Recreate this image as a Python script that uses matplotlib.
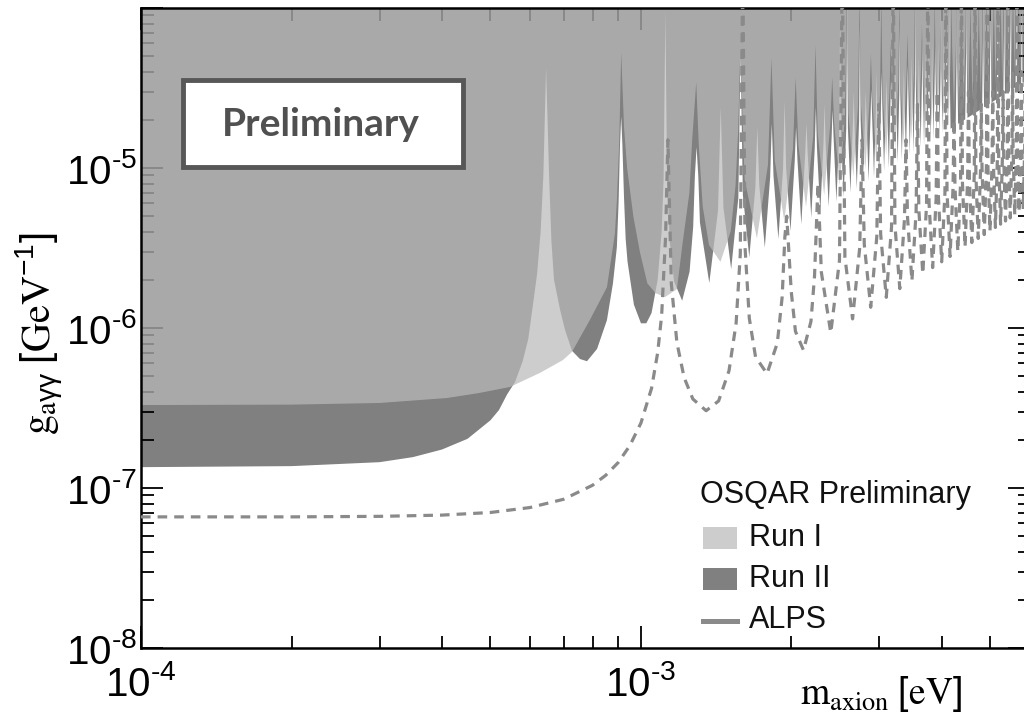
import numpy as np
import matplotlib
matplotlib.use("Agg")
import matplotlib.pyplot as plt
from matplotlib.patches import Rectangle
from matplotlib.lines import Line2D
from matplotlib.ticker import LogLocator, NullFormatter

plt.rcParams.update({
    "font.family": ["Liberation Sans", "DejaVu Sans"],
    "mathtext.fontset": "custom",
    "mathtext.rm": "Liberation Sans",
    "mathtext.it": "Liberation Sans:italic",
    "mathtext.bf": "Liberation Sans:bold",
    "mathtext.default": "regular",
})

# Exclusion limits: (axion mass [1e-4 eV], coupling g_agg [GeV^-1])
run1 = np.array([
    (1.00, 3.3e-7), (2.00, 3.32e-7), (3.00, 3.4e-7), (4.09, 3.65e-7), (4.76, 3.93e-7),
    (5.47, 4.28e-7), (6.28, 5.24e-7), (6.98, 6.3e-7), (7.28, 7.1e-7), (7.90, 1.12e-6),
    (8.55, 1.8e-6), (8.87, 3.9e-6), (8.95, 6.3e-6), (9.05, 1.5e-5), (9.13, 5.3e-5),
    (9.25, 1.8e-5), (9.38, 1.01e-5), (9.66, 4.94e-6), (9.96, 2.95e-6), (10.30, 1.9e-6),
    (10.70, 1.65e-6), (11.17, 1.56e-6), (11.80, 1.75e-6), (12.10, 3.3e-6), (12.50, 7.0e-6),
    (12.66, 1.5e-5), (12.90, 3.45e-5),
    (13.05, 1.4e-5), (13.29, 5.76e-6), (13.68, 3.30e-6), (14.42, 2.59e-6), (15.12, 4.03e-6),
    (15.46, 7.79e-6), (15.65, 1.76e-5), (15.80, 5.5e-5),
    (16.12, 8.47e-6), (17.06, 3.63e-6), (17.95, 1.05e-5), (18.24, 4.9e-5),
    (18.52, 1.117e-5), (19.35, 4.67e-6), (20.14, 1.321e-5), (20.39, 3.7e-5),
    (20.65, 1.388e-5), (21.39, 5.70e-6), (22.11, 1.592e-5), (22.34, 5.9e-5),
    (22.57, 1.659e-5), (23.25, 6.74e-6), (23.91, 1.862e-5), (24.13, 3.7e-5),
    (24.34, 1.930e-5), (24.98, 7.78e-6), (25.59, 2.133e-5), (25.80, 1.2e-4),
    (26.00, 2.201e-5), (26.59, 8.81e-6), (27.17, 2.404e-5), (27.36, 1.2e-4),
    (27.55, 2.472e-5), (28.11, 9.85e-6), (28.66, 2.675e-5), (28.84, 5.2e-5),
    (29.02, 2.743e-5), (29.55, 1.089e-5), (30.08, 2.946e-5), (30.25, 1.2e-4),
    (30.42, 3.014e-5), (30.93, 1.192e-5), (31.43, 3.217e-5), (31.59, 6.0e-5),
    (31.76, 3.285e-5), (32.24, 1.296e-5), (32.72, 3.488e-5), (32.88, 1.2e-4),
    (33.04, 3.556e-5), (33.51, 1.400e-5), (33.97, 3.759e-5), (34.12, 7.0e-5),
    (34.28, 3.826e-5), (34.73, 1.503e-5), (35.17, 4.030e-5), (35.32, 1.2e-4),
    (35.47, 4.097e-5), (35.91, 1.607e-5), (36.34, 4.300e-5), (36.48, 8.0e-5),
    (36.62, 4.368e-5), (37.05, 1.711e-5), (37.46, 4.571e-5), (37.60, 1.2e-4),
    (37.74, 4.639e-5), (38.15, 1.814e-5), (38.56, 4.842e-5), (38.69, 1.2e-4),
    (38.83, 4.910e-5), (39.23, 1.918e-5), (39.62, 5.113e-5), (39.75, 8.0e-5),
    (39.88, 5.181e-5), (40.27, 2.022e-5), (40.66, 5.384e-5), (40.79, 1.2e-4),
    (40.91, 5.452e-5), (41.29, 2.125e-5), (41.67, 5.655e-5), (41.79, 1.2e-4),
    (41.92, 5.723e-5), (42.29, 2.229e-5), (42.66, 5.926e-5), (42.78, 1.2e-4),
    (42.90, 5.994e-5), (43.26, 2.333e-5), (43.63, 6.197e-5), (43.74, 1.2e-4),
    (43.86, 6.265e-5), (44.21, 2.436e-5), (44.57, 6.468e-5), (44.68, 1.2e-4),
    (44.80, 6.535e-5), (45.14, 2.540e-5), (45.49, 6.739e-5), (45.60, 1.2e-4),
    (45.71, 6.806e-5), (46.05, 2.644e-5), (46.40, 7.010e-5), (46.50, 1.2e-4),
    (46.61, 7.077e-5), (46.95, 2.747e-5), (47.29, 7.280e-5), (47.39, 1.2e-4),
    (47.50, 7.348e-5), (47.83, 2.851e-5), (48.16, 7.551e-5), (48.26, 1.2e-4),
    (48.37, 7.619e-5), (48.69, 2.955e-5), (49.01, 7.822e-5), (49.11, 1.2e-4),
    (49.22, 7.890e-5), (49.53, 3.058e-5), (49.85, 8.093e-5), (49.95, 1.2e-4),
    (50.06, 8.161e-5), (50.37, 3.162e-5), (50.68, 8.364e-5), (50.78, 1.2e-4),
    (50.88, 8.432e-5), (51.19, 3.266e-5), (51.49, 8.635e-5), (51.59, 1.2e-4),
    (51.69, 8.703e-5), (51.99, 3.369e-5), (52.30, 8.906e-5), (52.39, 1.2e-4),
    (52.49, 8.973e-5), (52.79, 3.473e-5), (53.08, 9.177e-5), (53.18, 1.2e-4),
    (53.28, 9.244e-5), (53.57, 3.577e-5), (53.86, 9.448e-5), (53.95, 1.2e-4),
    (54.05, 9.515e-5), (54.34, 3.680e-5), (54.63, 9.719e-5), (54.72, 1.2e-4),
    (54.82, 9.786e-5), (55.10, 3.784e-5), (55.39, 9.989e-5), (55.47, 1.2e-4),
    (55.57, 1.006e-4), (55.85, 3.888e-5), (56.13, 1.026e-4), (56.22, 1.2e-4),
    (56.31, 1.033e-4), (56.59, 3.991e-5), (56.87, 1.053e-4), (56.95, 1.2e-4),
    (57.05, 1.060e-4), (57.32, 4.095e-5), (57.59, 1.080e-4), (57.68, 1.2e-4),
    (57.77, 1.087e-4), (58.04, 4.199e-5), (58.31, 1.107e-4), (58.40, 1.2e-4),
    (58.49, 1.114e-4), (58.75, 4.302e-5), (59.02, 1.134e-4), (59.10, 1.2e-4),
    (59.19, 1.141e-4), (59.46, 4.406e-5), (59.72, 1.161e-4), (59.80, 1.2e-4),
    (60.15, 4.510e-5),
])

run2 = np.array([
    (1.00, 1.35e-7), (2.00, 1.37e-7), (3.00, 1.45e-7), (3.50, 1.56e-7), (4.00, 1.74e-7),
    (4.50, 2.03e-7), (5.00, 2.65e-7), (5.20, 3.07e-7), (5.40, 3.85e-7), (5.60, 4.6e-7),
    (5.80, 6.2e-7), (5.95, 8.5e-7), (6.10, 1.5e-6), (6.20, 2.2e-6), (6.30, 4.0e-6),
    (6.38, 9.0e-6), (6.46, 4.2e-5),
    (6.55, 9.0e-6), (6.62, 3.5e-6), (6.70, 2.0e-6), (6.89, 1.3e-6), (7.05, 9.7e-7),
    (7.28, 7.2e-7), (7.55, 6.4e-7), (7.80, 6.2e-7), (8.17, 7.4e-7), (8.55, 1.12e-6),
    (8.79, 1.9e-6), (8.95, 3.2e-6), (9.02, 6.0e-6), (9.08, 1.4e-5), (9.13, 2.1e-5),
    (9.18, 1.4e-5), (9.25, 6.5e-6), (9.32, 3.6e-6), (9.40, 2.6e-6), (9.68, 1.4e-6),
    (10.0, 1.07e-6), (10.25, 1.07e-6), (10.5, 1.24e-6), (10.8, 2.0e-6), (11.0, 4.0e-6),
    (11.1, 8.5e-6), (11.19, 9.5e-5),
    (11.28, 8.3e-6), (11.42, 3.46e-6), (11.65, 1.95e-6), (12.09, 1.48e-6), (12.51, 2.25e-6),
    (12.72, 4.29e-6), (12.82, 9.0e-6), (12.92, 1.35e-5),
    (13.02, 9.0e-6), (13.12, 4.57e-6), (13.70, 1.91e-6), (14.26, 5.40e-6), (14.37, 1.34e-5),
    (14.44, 2.4e-5),
    (14.62, 5.68e-6), (15.15, 2.33e-6), (15.66, 6.51e-6), (15.82, 5.5e-5),
    (15.99, 6.79e-6), (16.47, 2.76e-6), (16.94, 7.62e-6), (17.09, 1.8e-5),
    (17.24, 7.89e-6), (17.69, 3.18e-6), (18.13, 8.73e-6), (18.27, 1.9e-5),
    (18.41, 9.00e-6), (18.83, 3.60e-6), (19.24, 9.83e-6), (19.38, 2.6e-5),
    (19.51, 1.011e-5), (19.91, 4.03e-6), (20.30, 1.094e-5), (20.43, 1.8e-5),
    (20.56, 1.122e-5), (20.93, 4.45e-6), (21.30, 1.205e-5), (21.43, 1.9e-5),
    (21.55, 1.233e-5), (21.91, 4.88e-6), (22.26, 1.316e-5), (22.38, 2.4e-5),
    (22.49, 1.343e-5), (22.84, 5.30e-6), (23.18, 1.427e-5), (23.29, 2.5e-5),
    (23.40, 1.454e-5), (23.74, 5.73e-6), (24.06, 1.537e-5), (24.17, 2.3e-5),
    (24.28, 1.565e-5), (24.60, 6.15e-6), (24.92, 1.648e-5), (25.02, 9.0e-5),
    (25.12, 1.676e-5), (25.43, 6.57e-6), (25.74, 1.759e-5), (25.84, 1.2e-4),
    (25.94, 1.787e-5), (26.24, 7.00e-6), (26.54, 1.870e-5), (26.64, 3.0e-5),
    (26.73, 1.897e-5), (27.02, 7.42e-6), (27.31, 1.981e-5), (27.41, 8.0e-5),
    (27.50, 2.008e-5), (27.79, 7.85e-6), (28.07, 2.091e-5), (28.16, 3.0e-5),
    (28.25, 2.119e-5), (28.53, 8.27e-6), (28.80, 2.202e-5), (28.89, 3.1e-5),
    (28.98, 2.230e-5), (29.25, 8.69e-6), (29.51, 2.313e-5), (29.60, 4.0e-5),
    (29.69, 2.341e-5), (29.95, 9.12e-6), (30.21, 2.424e-5), (30.30, 4.0e-5),
    (30.39, 2.451e-5), (30.64, 9.54e-6), (30.90, 2.535e-5), (30.98, 3.6e-5),
    (31.07, 2.562e-5), (31.32, 9.97e-6), (31.56, 2.645e-5), (31.65, 3.8e-5),
    (31.73, 2.673e-5), (31.98, 1.039e-5), (32.22, 2.756e-5), (32.30, 5.0e-5),
    (32.38, 2.784e-5), (32.62, 1.081e-5), (32.86, 2.867e-5), (32.94, 8.0e-5),
    (33.02, 2.895e-5), (33.25, 1.124e-5), (33.49, 2.978e-5), (33.57, 4.2e-5),
    (33.64, 3.005e-5), (33.88, 1.166e-5), (34.11, 3.089e-5), (34.18, 4.4e-5),
    (34.26, 3.116e-5), (34.49, 1.209e-5), (34.71, 3.199e-5), (34.79, 5.0e-5),
    (34.86, 3.227e-5), (35.09, 1.251e-5), (35.31, 3.310e-5), (35.38, 1.2e-4),
    (35.46, 3.338e-5), (35.68, 1.293e-5), (35.89, 3.421e-5), (35.97, 5.0e-5),
    (36.04, 3.449e-5), (36.26, 1.336e-5), (36.48, 3.532e-5), (36.54, 6.0e-5),
    (36.61, 3.560e-5), (36.83, 1.378e-5), (37.04, 3.643e-5), (37.11, 5.3e-5),
    (37.18, 3.670e-5), (37.39, 1.421e-5), (37.60, 3.753e-5), (37.67, 1.2e-4),
    (37.74, 3.781e-5), (37.95, 1.463e-5), (38.15, 3.864e-5), (38.22, 6.0e-5),
    (38.29, 3.892e-5), (38.49, 1.506e-5), (38.70, 3.975e-5), (38.76, 5.8e-5),
    (38.83, 4.003e-5), (39.03, 1.548e-5), (39.23, 4.086e-5), (39.29, 6.0e-5),
    (39.36, 4.113e-5), (39.56, 1.590e-5), (39.76, 4.197e-5), (39.82, 1.2e-4),
    (39.89, 4.224e-5), (40.08, 1.633e-5), (40.28, 4.307e-5), (40.34, 6.5e-5),
    (40.41, 4.335e-5), (40.60, 1.675e-5), (40.80, 4.418e-5), (40.86, 7.0e-5),
    (40.92, 4.446e-5), (41.11, 1.718e-5), (41.30, 4.529e-5), (41.36, 1.2e-4),
    (41.43, 4.557e-5), (41.62, 1.760e-5),
    (42.61, 1.845e-5), (42.79, 4.875e-5), (42.85, 1.2e-4), (42.91, 4.875e-5), (43.09, 1.887e-5),
    (44.05, 1.972e-5),
    (44.52, 2.014e-5), (44.70, 5.32e-5), (44.76, 1.2e-4), (44.82, 5.32e-5), (44.99, 2.057e-5),
    (45.91, 2.142e-5),
    (46.36, 2.184e-5), (46.52, 5.76e-5), (46.58, 1.2e-4), (46.64, 5.76e-5), (46.81, 2.227e-5),
    (47.69, 2.311e-5),
    (48.13, 2.354e-5), (48.29, 6.20e-5), (48.34, 1.2e-4), (48.39, 6.20e-5), (48.56, 2.396e-5),
    (49.41, 2.481e-5),
    (49.83, 2.523e-5), (49.99, 6.65e-5), (50.04, 1.2e-4), (50.09, 6.65e-5), (50.25, 2.566e-5),
    (51.07, 2.651e-5),
    (51.48, 2.693e-5), (51.63, 7.09e-5), (51.68, 1.2e-4), (51.73, 7.09e-5), (51.88, 2.735e-5),
    (52.68, 2.820e-5),
    (53.07, 2.863e-5), (53.22, 7.53e-5), (53.27, 1.2e-4), (53.32, 7.53e-5), (53.47, 2.905e-5),
    (54.24, 2.990e-5),
    (54.62, 3.032e-5), (54.77, 7.98e-5), (54.82, 1.2e-4), (54.87, 7.98e-5), (55.00, 3.075e-5),
    (55.76, 3.160e-5),
    (56.13, 3.202e-5), (56.27, 8.42e-5), (56.32, 1.2e-4), (56.37, 8.42e-5), (56.50, 3.244e-5),
    (57.24, 3.329e-5),
    (57.60, 3.372e-5), (57.73, 8.86e-5), (57.78, 1.2e-4), (57.83, 8.86e-5), (57.96, 3.414e-5),
    (58.68, 3.499e-5),
    (59.03, 3.541e-5), (59.17, 9.31e-5), (59.21, 1.2e-4), (59.25, 9.31e-5), (59.38, 3.584e-5),
    (60.08, 3.668e-5),
])

alps = np.array([
    (1.00, 6.6e-8), (2.00, 6.6e-8), (3.00, 6.65e-8), (4.00, 6.77e-8), (5.00, 7.03e-8),
    (6.00, 7.55e-8), (7.00, 8.5e-8), (8.00, 1.04e-7), (8.50, 1.2e-7), (9.00, 1.44e-7),
    (9.50, 1.84e-7), (10.0, 2.55e-7), (10.5, 4.2e-7), (10.8, 7.0e-7), (11.0, 1.2e-6),
    (11.2, 3.7e-6), (11.32, 1.5e-5),
    (11.5, 1.9e-6), (11.8, 8.1e-7), (12.2, 4.9e-7), (12.7, 3.6e-7), (13.5, 3.04e-7),
    (14.3, 3.5e-7), (15.0, 5.4e-7), (15.5, 1.07e-6), (15.8, 2.9e-6), (15.98, 2.0e-4),
    (16.15, 3.2e-6), (16.47, 1.151e-6), (16.95, 6.6e-7), (17.87, 5.18e-7), (18.74, 8.06e-7),
    (19.16, 1.558e-6), (19.40, 3.7e-6), (19.57, 5.0e-6),
    (19.98, 1.693e-6), (20.37, 9.53e-7), (21.14, 7.26e-7), (21.88, 1.10e-6), (22.24, 2.1e-6),
    (22.60, 8.0e-6),
    (22.95, 2.235e-6), (23.97, 9.33e-7), (24.95, 2.641e-6), (25.27, 2.0e-4),
    (25.58, 2.777e-6), (26.50, 1.140e-6), (27.39, 3.183e-6), (27.68, 1.5e-5),
    (27.97, 3.319e-6), (28.81, 1.348e-6), (29.63, 3.725e-6), (29.90, 2.5e-5),
    (30.16, 3.860e-6), (30.95, 1.555e-6), (31.71, 4.267e-6), (31.96, 2.0e-4),
    (32.21, 4.402e-6), (32.94, 1.762e-6), (33.66, 4.808e-6), (33.90, 1.5e-5),
    (34.13, 4.944e-6), (34.83, 1.970e-6), (35.51, 5.350e-6), (35.73, 2.5e-5),
    (35.96, 5.486e-6), (36.62, 2.177e-6), (37.26, 5.892e-6), (37.48, 2.0e-4),
    (37.69, 6.028e-6), (38.32, 2.385e-6), (38.94, 6.434e-6), (39.14, 3.0e-5),
    (39.35, 6.569e-6), (39.95, 2.592e-6), (40.55, 6.976e-6), (40.74, 2.0e-4),
    (40.94, 7.111e-6), (41.52, 2.799e-6), (42.09, 7.517e-6), (42.28, 2.0e-5),
    (42.47, 7.653e-6), (43.03, 3.007e-6), (43.58, 8.059e-6), (43.76, 2.0e-4),
    (43.95, 8.195e-6), (44.49, 3.214e-6), (45.02, 8.601e-6), (45.20, 3.0e-5),
    (45.38, 8.737e-6), (45.90, 3.421e-6), (46.42, 9.143e-6), (46.59, 2.0e-4),
    (46.76, 9.278e-6), (47.27, 3.629e-6), (47.78, 9.685e-6), (47.94, 2.5e-5),
    (48.11, 9.820e-6), (48.60, 3.836e-6), (49.09, 1.023e-5), (49.26, 2.0e-4),
    (49.42, 1.036e-5), (49.90, 4.043e-6), (50.38, 1.077e-5), (50.54, 3.0e-5),
    (50.69, 1.090e-5), (51.16, 4.251e-6), (51.63, 1.131e-5), (51.78, 2.0e-4),
    (51.94, 1.145e-5), (52.40, 4.458e-6), (52.85, 1.185e-5), (53.00, 3.0e-5),
    (53.15, 1.199e-5), (53.60, 4.665e-6), (54.05, 1.239e-5), (54.19, 2.0e-4),
    (54.34, 1.253e-5), (54.78, 4.873e-6), (55.21, 1.294e-5), (55.36, 4.0e-5),
    (55.50, 1.307e-5), (55.93, 5.080e-6), (56.36, 1.348e-5), (56.50, 2.0e-4),
    (56.64, 1.361e-5), (57.06, 5.287e-6), (57.48, 1.402e-5), (57.62, 4.0e-5),
    (57.76, 1.416e-5), (58.17, 5.495e-6), (58.58, 1.456e-5), (58.72, 2.0e-4),
    (58.85, 1.470e-5), (59.26, 5.702e-6), (59.66, 1.510e-5), (59.79, 2.0e-4),
    (59.93, 1.524e-5), (60.33, 5.909e-6),
])

mass_unit = 1e-4  # eV

x_ticks = [1e-4, 1e-3]
x_tick_labels = [r"$10^{\text{-}4}$", r"$10^{\text{-}3}$"]
y_ticks = [1e-8, 1e-7, 1e-6, 1e-5, 1e-4]
y_tick_labels = [r"$10^{\text{-}8}$", r"$10^{\text{-}7}$", r"$10^{\text{-}6}$",
                 r"$10^{\text{-}5}$", ""]
legend_title = "OSQAR Preliminary"
legend_labels = ["Run I", "Run II", "ALPS"]
stamp_text = "Preliminary"

COL_RUN2 = "#808080"
COL_RUN1 = "#bababa"
ALPHA_RUN1 = 0.72
COL_ALPS = "#8a8a8a"

W, H = 1024, 713
fig = plt.figure(figsize=(W / 100, H / 100), dpi=100, facecolor="white")


def fx(px):
    return px / W


def fy(py):
    return 1.0 - py / H


ax = fig.add_axes([fx(141), fy(648), 889 / W, 640 / H])
ax.set_xscale("log")
ax.set_yscale("log")

ax.fill_between(run2[:, 0] * mass_unit, run2[:, 1], 1.0, color=COL_RUN2, lw=0, zorder=1)
ax.fill_between(run1[:, 0] * mass_unit, run1[:, 1], 1.0, color=COL_RUN1,
                alpha=ALPHA_RUN1, lw=0, zorder=2)
ax.plot(alps[:, 0] * mass_unit, alps[:, 1], color=COL_ALPS, lw=2.3,
        ls=(0, (3.0, 2.2)), zorder=3)

ax.set_xlim(1e-4, 6e-3)
ax.set_ylim(1e-8, 1e-4)

ax.set_xticks(x_ticks, x_tick_labels)
ax.set_yticks(y_ticks, y_tick_labels)
ax.xaxis.set_minor_locator(LogLocator(base=10, subs=np.arange(2, 10), numticks=30))
ax.yaxis.set_minor_locator(LogLocator(base=10, subs=np.arange(2, 10), numticks=30))
ax.xaxis.set_minor_formatter(NullFormatter())
ax.yaxis.set_minor_formatter(NullFormatter())
ax.tick_params(which="both", direction="in", top=True, right=True, width=1.3,
               color="black")
ax.tick_params(which="major", length=16, labelsize=29)
ax.tick_params(which="minor", length=9)
ax.tick_params(axis="x", which="major", pad=12)
ax.tick_params(axis="y", which="major", pad=3)
for sp in ax.spines.values():
    sp.set_linewidth(1.8)

# axis titles
fig.text(fx(40), fy(333), r"$\mathrm{g}_{\mathrm{a}\gamma\gamma}\ [\mathrm{GeV}^{-1}]$",
         rotation=90, ha="center", va="center", fontsize=29, math_fontfamily="stix")
fig.text(fx(800), fy(704), r"$\mathrm{m}_{\mathrm{axion}}\ [\mathrm{eV}]$",
         ha="left", va="baseline", fontsize=27, math_fontfamily="stix")

# "Preliminary" stamp
fig.add_artist(Rectangle((fx(183), fy(167)), 280 / W, 87 / H, transform=fig.transFigure,
                         facecolor="white", edgecolor="#575757", lw=3.5, zorder=10))
fig.text(fx(321), fy(124), stamp_text, ha="center", va="center", fontsize=28,
         fontweight="bold", color="#505050", family=["Lato", "DejaVu Sans"], zorder=11)

# legend
fig.text(fx(700), fy(495), legend_title, ha="left", va="center", fontsize=22,
         color="#111111", zorder=11)
fig.add_artist(Rectangle((fx(703), fy(549)), 34 / W, 22 / H, transform=fig.transFigure,
                         facecolor=COL_RUN1, alpha=ALPHA_RUN1, lw=0, zorder=10))
fig.add_artist(Rectangle((fx(703), fy(590)), 34 / W, 22 / H, transform=fig.transFigure,
                         facecolor=COL_RUN2, lw=0, zorder=10))
fig.add_artist(Line2D([fx(703), fx(737)], [fy(621), fy(621)], transform=fig.transFigure,
                      color=COL_ALPS, lw=3.6, zorder=10))
for lbl, py in zip(legend_labels, [538, 579, 620]):
    fig.text(fx(749), fy(py), lbl, ha="left", va="center", fontsize=22,
             color="#111111", zorder=11)

fig.savefig("out.png", dpi=100, facecolor="white")
